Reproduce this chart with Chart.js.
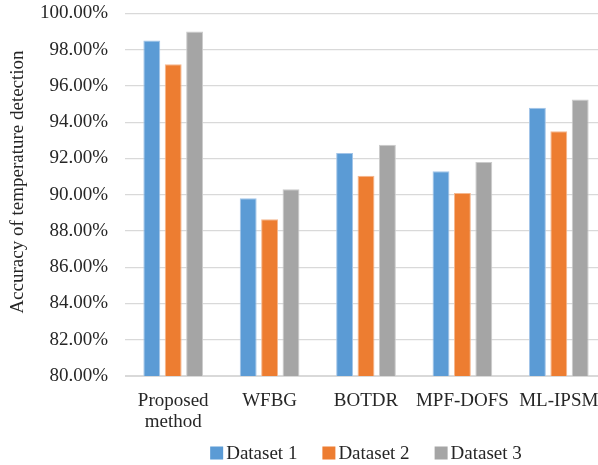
<!DOCTYPE html>
<html>
<head>
<meta charset="utf-8">
<script src="https://cdn.jsdelivr.net/npm/chart.js@4/dist/chart.umd.min.js"></script>
<style>
  html, body { margin: 0; padding: 0; overflow: hidden; background: #fff; width: 598px; height: 465px; }
  #wrap { width: 610px; height: 465px; }
</style>
</head>
<body>
<div id="wrap"><canvas id="chart" width="610" height="465"></canvas></div>
<script>
// Temperature detection accuracy (%) per method and dataset
const methods = [['Proposed', 'method'], 'WFBG', 'BOTDR', 'MPF-DOFS', 'ML-IPSM'];
const dataset1 = [98.5, 89.8, 92.3, 91.3, 94.8];
const dataset2 = [97.2, 88.65, 91.05, 90.1, 93.5];
const dataset3 = [99.0, 90.3, 92.75, 91.8, 95.25];
const seriesNames = ['Dataset 1', 'Dataset 2', 'Dataset 3'];
const yAxisTitle = 'Accuracy of temperature detection';
const yMin = 80, yMax = 100, yStep = 2;

const FONT = '"Liberation Serif", "Times New Roman", serif';
const TEXT = '#262626';
const fills = ['#5B9BD5', '#ED7D31', '#A5A5A5'];
const edges = ['#A2C4E8', '#F5B78E', '#CBCBCB'];

// Legend and rotated axis title drawn by hand for tighter spacing
const decorations = {
  id: 'decorations',
  afterDraw(chart) {
    const ctx = chart.ctx;
    const area = chart.chartArea;
    ctx.save();
    ctx.font = '19px ' + FONT;
    ctx.fillStyle = TEXT;

    // y-axis title
    ctx.save();
    ctx.translate(18, 182);
    ctx.rotate(-Math.PI / 2);
    ctx.textAlign = 'center';
    ctx.textBaseline = 'middle';
    ctx.fillText(yAxisTitle, 0, 0);
    ctx.restore();

    // legend
    const box = 13, gap = 3, space = 25, cy = 453;
    const items = chart.data.datasets.map(d => ({
      label: d.label, color: d.backgroundColor,
      w: box + gap + ctx.measureText(d.label).width
    }));
    const total = items.reduce((s, i) => s + i.w, 0) + space * (items.length - 1);
    let x = (area.left + area.right) / 2 - total / 2;
    ctx.textAlign = 'left';
    ctx.textBaseline = 'middle';
    items.forEach(it => {
      ctx.fillStyle = it.color;
      ctx.fillRect(x, cy - box / 2, box, box);
      ctx.fillStyle = TEXT;
      ctx.fillText(it.label, x + box + gap, cy + 1);
      x += it.w + space;
    });
    ctx.restore();
  }
};

const seriesData = [dataset1, dataset2, dataset3];

new Chart(document.getElementById('chart'), {
  type: 'bar',
  data: {
    labels: methods,
    datasets: seriesNames.map((name, i) => ({
      label: name,
      data: seriesData[i],
      backgroundColor: fills[i],
      borderColor: edges[i],
      borderWidth: 1,
      categoryPercentage: 0.666,
      barPercentage: 0.79
    }))
  },
  options: {
    responsive: false,
    animation: false,
    devicePixelRatio: 1,
    layout: { padding: { top: 0, right: 3, left: 0, bottom: 0 } },
    plugins: {
      legend: { display: false },
      tooltip: { enabled: false }
    },
    scales: {
      x: {
        grid: { display: false },
        border: { display: true, color: '#d9d9d9', width: 1 },
        ticks: {
          color: TEXT,
          font: { family: FONT, size: 19, lineHeight: 1.1 },
          padding: 7,
          maxRotation: 0,
          autoSkip: false
        },
        afterFit(scale) { scale.height = 89; }
      },
      y: {
        min: yMin,
        max: yMax,
        grid: { color: '#d9d9d9', lineWidth: 1.3, drawTicks: false },
        border: { display: false },
        ticks: {
          stepSize: yStep,
          color: TEXT,
          font: { family: FONT, size: 19 },
          padding: 17,
          callback: v => v.toFixed(2) + '%'
        },
        afterFit(scale) {
          scale.width = 125;
          scale.paddingTop = 13.4;
          scale.paddingBottom = 0;
        }
      }
    }
  },
  plugins: [decorations]
});
</script>
</body>
</html>
